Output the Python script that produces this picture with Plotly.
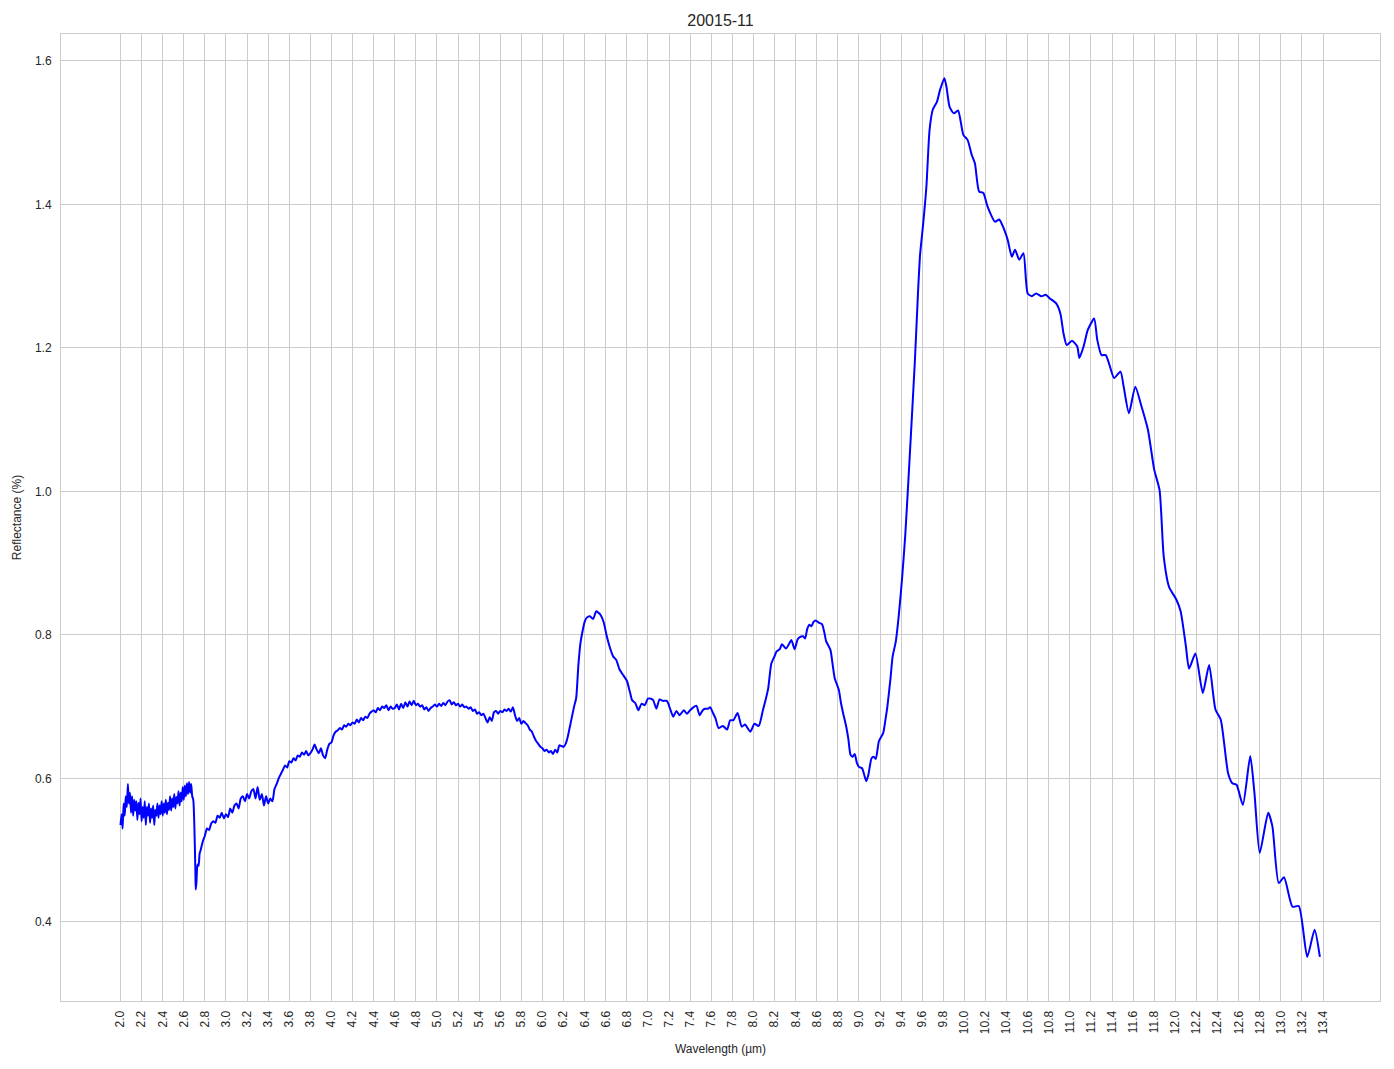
import plotly.graph_objects as go

# ---- data (wavelength in µm, reflectance) ----
wl_noisy = [2.00, 2.01, 2.02, 2.03, 2.04, 2.05, 2.06, 2.07, 2.08, 2.09,
            2.10, 2.11, 2.12, 2.13, 2.14, 2.15, 2.16, 2.17, 2.18, 2.19,
            2.20, 2.21, 2.22, 2.23, 2.24, 2.25, 2.26, 2.27, 2.28, 2.29,
            2.30, 2.31, 2.32, 2.33, 2.34, 2.35, 2.36, 2.37, 2.38, 2.39,
            2.40, 2.41, 2.42, 2.43, 2.44, 2.45, 2.46, 2.47, 2.48, 2.49,
            2.50, 2.51, 2.52, 2.53, 2.54, 2.55, 2.56, 2.57, 2.58, 2.59,
            2.60, 2.61, 2.62, 2.63, 2.64, 2.65, 2.66, 2.67, 2.68, 2.69,
            2.70, 2.71, 2.713, 2.72, 2.73, 2.74, 2.75, 2.76, 2.78]
refl_noisy = [0.535, 0.550, 0.530, 0.565, 0.548, 0.575, 0.560, 0.592, 0.565, 0.580,
              0.552, 0.575, 0.548, 0.570, 0.555, 0.568, 0.542, 0.566, 0.550, 0.572,
              0.540, 0.560, 0.545, 0.568, 0.535, 0.560, 0.548, 0.565, 0.538, 0.558,
              0.545, 0.562, 0.535, 0.556, 0.548, 0.565, 0.545, 0.562, 0.550, 0.568,
              0.548, 0.565, 0.552, 0.570, 0.550, 0.566, 0.556, 0.575, 0.555, 0.572,
              0.560, 0.578, 0.558, 0.574, 0.565, 0.582, 0.562, 0.580, 0.568, 0.588,
              0.570, 0.590, 0.575, 0.593, 0.578, 0.595, 0.580, 0.592, 0.575, 0.570,
              0.535, 0.470, 0.445, 0.455, 0.480, 0.478, 0.495, 0.500, 0.512]

wl_mid = [2.80, 2.82, 2.84, 2.86, 2.88, 2.90, 2.92, 2.94, 2.96, 2.98,
          3.00, 3.02, 3.04, 3.06, 3.08, 3.10, 3.12, 3.14, 3.16, 3.18,
          3.20, 3.22, 3.24, 3.26, 3.28, 3.30, 3.32, 3.34, 3.36, 3.38,
          3.40, 3.42, 3.44, 3.46, 3.48, 3.50, 3.52, 3.54, 3.56, 3.58,
          3.60, 3.62, 3.64, 3.66, 3.68, 3.70, 3.72, 3.74, 3.76, 3.78,
          3.80, 3.82, 3.84, 3.86, 3.88, 3.90, 3.92, 3.94, 3.96, 3.98,
          4.00, 4.02, 4.04, 4.06, 4.08, 4.10, 4.12, 4.14, 4.16, 4.18,
          4.20, 4.22, 4.24, 4.26, 4.28, 4.30, 4.32, 4.34, 4.36, 4.38,
          4.40, 4.42, 4.44, 4.46, 4.48, 4.50, 4.52, 4.54, 4.56, 4.58,
          4.60, 4.62, 4.64, 4.66, 4.68, 4.70, 4.72, 4.74, 4.76, 4.78,
          4.80, 4.82, 4.84, 4.86, 4.88, 4.90, 4.92, 4.94, 4.96, 4.98,
          5.00, 5.02, 5.04, 5.06, 5.08, 5.10, 5.12, 5.14, 5.16, 5.18,
          5.20, 5.22, 5.24, 5.26, 5.28, 5.30, 5.32, 5.34, 5.36, 5.38,
          5.40, 5.42, 5.44, 5.46, 5.48, 5.50, 5.52, 5.54, 5.56, 5.58,
          5.60, 5.62, 5.64, 5.66, 5.68, 5.70, 5.72, 5.74, 5.76, 5.78,
          5.80, 5.82, 5.84, 5.86, 5.88, 5.90, 5.92, 5.94, 5.96, 5.98,
          6.00, 6.02, 6.04, 6.06, 6.08, 6.10, 6.12, 6.14, 6.16, 6.18,
          6.20, 6.22, 6.24, 6.26, 6.28, 6.30, 6.32]
refl_mid = [0.520, 0.530, 0.528, 0.537, 0.540, 0.538, 0.548, 0.545, 0.552, 0.544,
            0.550, 0.546, 0.558, 0.552, 0.562, 0.565, 0.558, 0.572, 0.575, 0.568,
            0.578, 0.572, 0.582, 0.585, 0.572, 0.588, 0.570, 0.578, 0.562, 0.575,
            0.565, 0.572, 0.568, 0.585, 0.592, 0.600, 0.606, 0.612, 0.618, 0.615,
            0.624, 0.622, 0.628, 0.625, 0.632, 0.630, 0.636, 0.633, 0.638, 0.632,
            0.635, 0.640, 0.647, 0.640, 0.635, 0.642, 0.632, 0.628, 0.640, 0.648,
            0.650, 0.660, 0.665, 0.667, 0.670, 0.668, 0.674, 0.672, 0.676, 0.674,
            0.678, 0.676, 0.682, 0.678, 0.684, 0.681, 0.686, 0.684, 0.690, 0.693,
            0.695, 0.692, 0.698, 0.695, 0.700, 0.698, 0.702, 0.695, 0.700, 0.697,
            0.698, 0.703, 0.696, 0.704, 0.698, 0.706, 0.700, 0.707, 0.702, 0.708,
            0.702, 0.704, 0.700, 0.702, 0.696, 0.699, 0.694, 0.698, 0.700, 0.703,
            0.700, 0.704, 0.701, 0.705, 0.702, 0.707, 0.709, 0.703, 0.706, 0.702,
            0.704, 0.700, 0.703, 0.699, 0.700, 0.697, 0.699, 0.694, 0.696, 0.690,
            0.692, 0.688, 0.690, 0.684, 0.678, 0.685, 0.680, 0.692, 0.694, 0.690,
            0.694, 0.692, 0.696, 0.694, 0.697, 0.693, 0.699, 0.688, 0.680, 0.684,
            0.676, 0.680, 0.677, 0.674, 0.668, 0.665, 0.658, 0.652, 0.648, 0.644,
            0.642, 0.638, 0.640, 0.636, 0.638, 0.634, 0.640, 0.636, 0.646, 0.645,
            0.644, 0.648, 0.658, 0.672, 0.686, 0.700, 0.712]

wl_smooth = [6.34, 6.36, 6.38, 6.40, 6.42, 6.45, 6.48, 6.51, 6.53, 6.55,
             6.58, 6.61, 6.64, 6.67, 6.70, 6.73, 6.76, 6.80, 6.83, 6.85,
             6.88, 6.91, 6.94, 6.97, 7.00, 7.03, 7.05, 7.08, 7.11, 7.14,
             7.18, 7.21, 7.24, 7.27, 7.30, 7.34, 7.37, 7.40, 7.43, 7.46,
             7.49, 7.52, 7.54, 7.57, 7.59, 7.62, 7.64, 7.67, 7.71, 7.75,
             7.78, 7.81, 7.85, 7.89, 7.92, 7.97, 8.01, 8.05, 8.09, 8.12,
             8.14, 8.17, 8.20, 8.22, 8.25, 8.27, 8.31, 8.34, 8.36, 8.39,
             8.42, 8.44, 8.47, 8.49, 8.51, 8.53, 8.55, 8.57, 8.59, 8.62,
             8.65, 8.67, 8.69, 8.73, 8.75, 8.77, 8.81, 8.83, 8.85, 8.88,
             8.90, 8.92, 8.94, 8.96, 8.98, 9.00, 9.03, 9.05, 9.07, 9.09,
             9.12, 9.14, 9.16, 9.19, 9.23, 9.25, 9.27, 9.30, 9.32, 9.35,
             9.38, 9.41, 9.44, 9.48, 9.53, 9.56, 9.58, 9.61, 9.64, 9.67,
             9.70, 9.74, 9.77, 9.81, 9.83, 9.86, 9.90, 9.94, 9.99, 10.03,
             10.07, 10.10, 10.14, 10.18, 10.22, 10.29, 10.33, 10.38, 10.41, 10.45,
             10.48, 10.52, 10.56, 10.60, 10.64, 10.68, 10.73, 10.77, 10.81, 10.87,
             10.91, 10.94, 10.97, 11.02, 11.07, 11.09, 11.13, 11.17, 11.23, 11.26,
             11.30, 11.34, 11.38, 11.42, 11.48, 11.51, 11.56, 11.62, 11.68, 11.74,
             11.80, 11.85, 11.89, 11.94, 12.01, 12.05, 12.10, 12.13, 12.19, 12.26,
             12.32, 12.38, 12.43, 12.50, 12.54, 12.58, 12.64, 12.71, 12.75, 12.80,
             12.88, 12.92, 12.98, 13.03, 13.11, 13.17, 13.25, 13.32, 13.37]
refl_smooth = [0.756, 0.788, 0.805, 0.818, 0.824, 0.826, 0.822, 0.833, 0.831, 0.828,
               0.818, 0.798, 0.782, 0.770, 0.765, 0.752, 0.745, 0.736, 0.720, 0.709,
               0.705, 0.695, 0.704, 0.702, 0.711, 0.711, 0.709, 0.697, 0.710, 0.708,
               0.708, 0.697, 0.686, 0.694, 0.688, 0.695, 0.690, 0.695, 0.699, 0.701,
               0.688, 0.695, 0.697, 0.697, 0.699, 0.690, 0.684, 0.670, 0.673, 0.668,
               0.681, 0.681, 0.691, 0.672, 0.675, 0.665, 0.676, 0.673, 0.695, 0.712,
               0.725, 0.760, 0.770, 0.777, 0.780, 0.787, 0.781, 0.788, 0.793, 0.780,
               0.794, 0.797, 0.798, 0.795, 0.808, 0.814, 0.812, 0.818, 0.820, 0.817,
               0.815, 0.805, 0.791, 0.779, 0.760, 0.740, 0.723, 0.705, 0.691, 0.672,
               0.655, 0.633, 0.630, 0.634, 0.622, 0.616, 0.614, 0.605, 0.596, 0.605,
               0.628, 0.630, 0.627, 0.652, 0.663, 0.680, 0.700, 0.740, 0.770, 0.791,
               0.830, 0.880, 0.940, 1.044, 1.180, 1.276, 1.330, 1.374, 1.425, 1.504,
               1.532, 1.543, 1.560, 1.576, 1.564, 1.536, 1.527, 1.531, 1.497, 1.490,
               1.469, 1.457, 1.418, 1.416, 1.397, 1.376, 1.379, 1.364, 1.351, 1.327,
               1.337, 1.323, 1.332, 1.276, 1.272, 1.276, 1.272, 1.274, 1.269, 1.262,
               1.248, 1.220, 1.204, 1.210, 1.202, 1.186, 1.202, 1.225, 1.241, 1.211,
               1.190, 1.190, 1.174, 1.158, 1.167, 1.146, 1.109, 1.146, 1.118, 1.086,
               1.030, 1.002, 0.909, 0.867, 0.849, 0.833, 0.784, 0.753, 0.774, 0.719,
               0.758, 0.696, 0.682, 0.607, 0.593, 0.591, 0.563, 0.631, 0.579, 0.496,
               0.552, 0.533, 0.454, 0.462, 0.421, 0.422, 0.351, 0.389, 0.351]

wavelength = wl_noisy + wl_mid + wl_smooth
reflectance = refl_noisy + refl_mid + refl_smooth

x_tick_values = [2.0, 2.2, 2.4, 2.6, 2.8, 3.0, 3.2, 3.4, 3.6, 3.8, 4.0, 4.2,
                 4.4, 4.6, 4.8, 5.0, 5.2, 5.4, 5.6, 5.8, 6.0, 6.2, 6.4, 6.6,
                 6.8, 7.0, 7.2, 7.4, 7.6, 7.8, 8.0, 8.2, 8.4, 8.6, 8.8, 9.0,
                 9.2, 9.4, 9.6, 9.8, 10.0, 10.2, 10.4, 10.6, 10.8, 11.0, 11.2,
                 11.4, 11.6, 11.8, 12.0, 12.2, 12.4, 12.6, 12.8, 13.0, 13.2, 13.4]
x_tick_labels = ["2.0", "2.2", "2.4", "2.6", "2.8", "3.0", "3.2", "3.4", "3.6", "3.8",
                 "4.0", "4.2", "4.4", "4.6", "4.8", "5.0", "5.2", "5.4", "5.6", "5.8",
                 "6.0", "6.2", "6.4", "6.6", "6.8", "7.0", "7.2", "7.4", "7.6", "7.8",
                 "8.0", "8.2", "8.4", "8.6", "8.8", "9.0", "9.2", "9.4", "9.6", "9.8",
                 "10.0", "10.2", "10.4", "10.6", "10.8", "11.0", "11.2", "11.4", "11.6",
                 "11.8", "12.0", "12.2", "12.4", "12.6", "12.8", "13.0", "13.2", "13.4"]
y_tick_values = [0.4, 0.6, 0.8, 1.0, 1.2, 1.4, 1.6]
y_tick_labels = ["0.4", "0.6", "0.8", "1.0", "1.2", "1.4", "1.6"]

FONT = "Liberation Sans, Arial, sans-serif"

fig = go.Figure()
fig.add_trace(go.Scatter(
    x=wavelength, y=reflectance, mode="lines",
    line=dict(color="#0000ff", width=2, shape="spline", smoothing=0.6),
    showlegend=False,
))

# page body has an 8px margin, so the figure is sized/offset to compensate
fig.update_layout(
    width=1386, height=1061,
    margin=dict(l=53, r=14, t=26, b=68, autoexpand=False),
    paper_bgcolor="white", plot_bgcolor="white",
    font=dict(family=FONT, size=12, color="#262626"),
    title=dict(text="20015-11", x=0.5, xref="paper", xanchor="center",
               y=1 - 12 / 1061, yanchor="middle",
               font=dict(family=FONT, size=16, color="#262626")),
)
fig.update_xaxes(
    range=[1.436, 13.94], tickmode="array", automargin=False,
    tickvals=x_tick_values, ticktext=x_tick_labels, tickangle=-90,
    showgrid=True, gridcolor="#cccccc", gridwidth=1,
    showline=True, linecolor="#cccccc", linewidth=1, mirror=True,
    zeroline=False, ticks="outside", ticklen=4, tickcolor="white",
    tickfont=dict(family=FONT, size=12, color="#262626"),
    title=dict(text="Wavelength (µm)", standoff=11,
               font=dict(family=FONT, size=12, color="#262626")),
)
fig.update_yaxes(
    range=[0.2896, 1.6376], tickmode="array", automargin=False,
    tickvals=y_tick_values, ticktext=y_tick_labels,
    showgrid=True, gridcolor="#cccccc", gridwidth=1,
    showline=True, linecolor="#cccccc", linewidth=1, mirror=True,
    zeroline=False, ticks="outside", ticklen=6, tickcolor="white",
    tickfont=dict(family=FONT, size=12, color="#262626"),
    title=dict(text="Reflectance (%)", standoff=10,
               font=dict(family=FONT, size=12, color="#262626")),
)

fig.write_html("out.html")
